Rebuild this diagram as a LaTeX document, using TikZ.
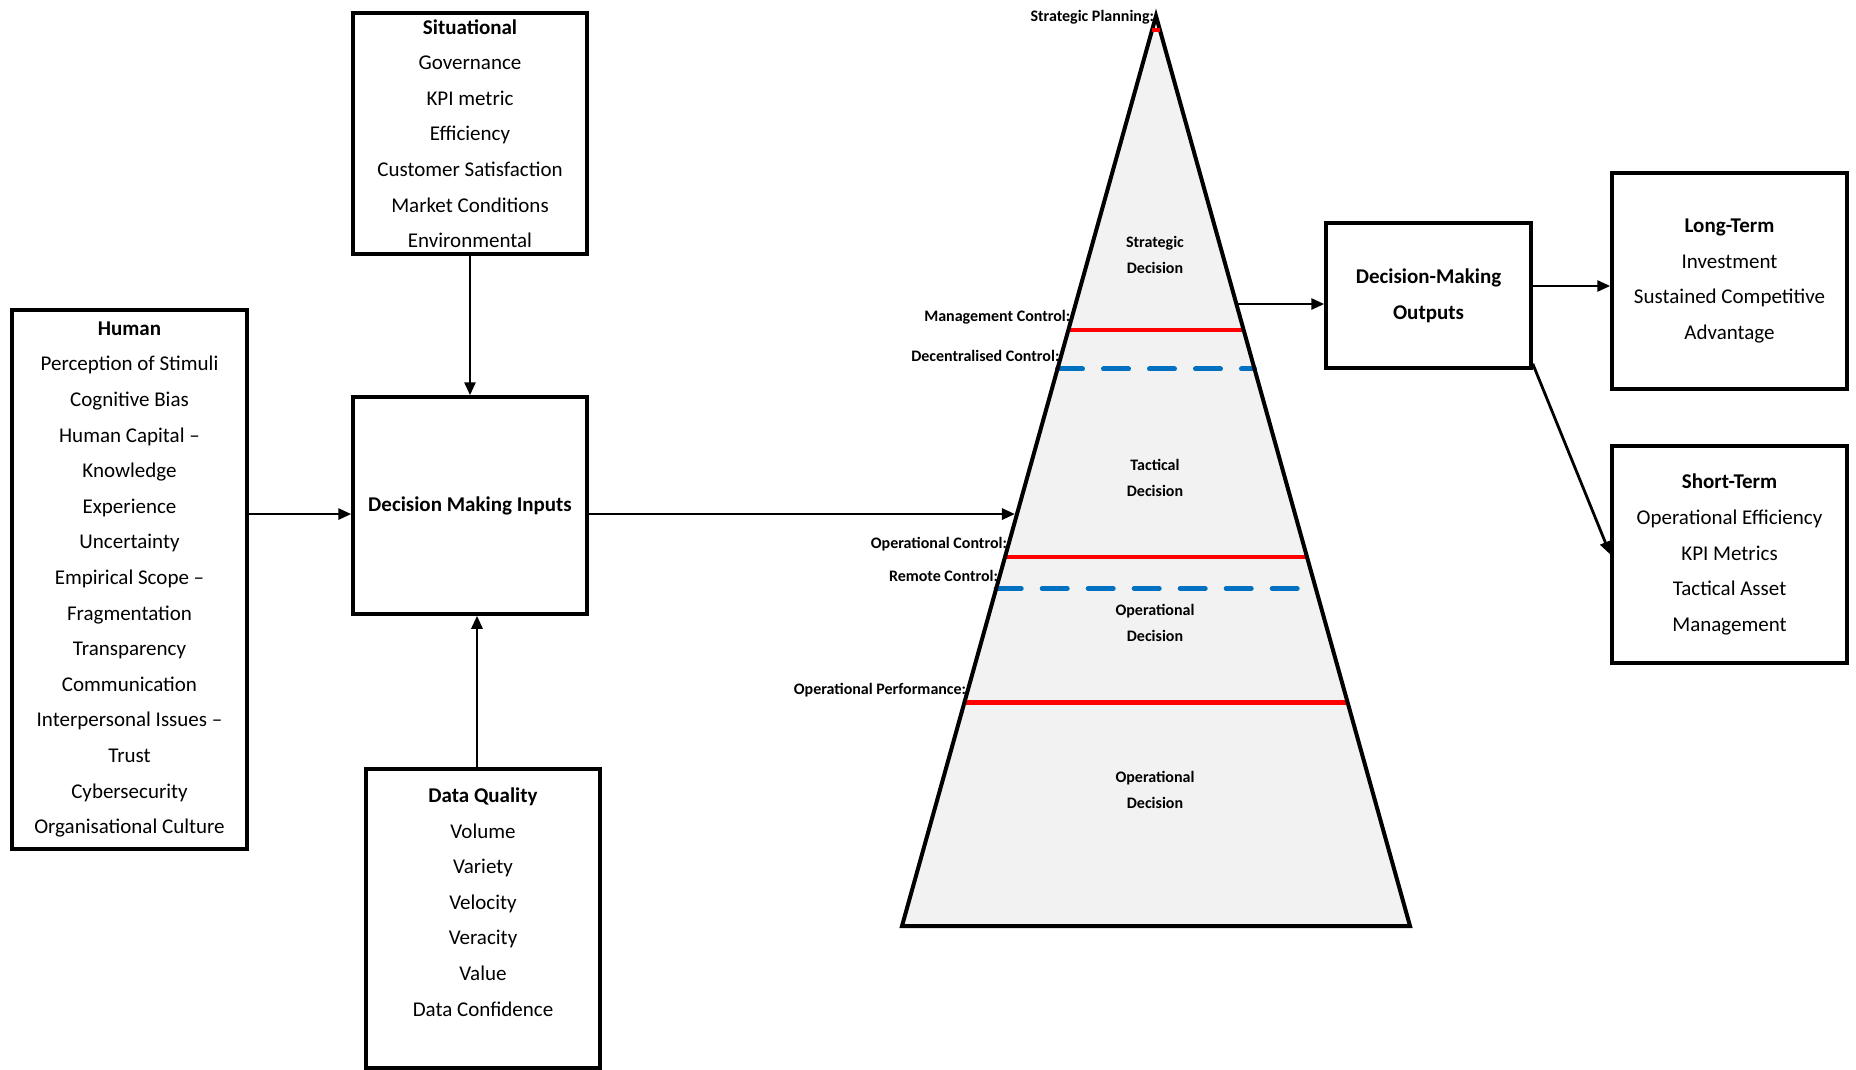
\documentclass[tikz,border=0pt]{standalone}
\usepackage{fontspec}
\setmainfont{Carlito}
\usetikzlibrary{arrows.meta,calc}
\definecolor{ctrlred}{RGB}{255,0,0}
\definecolor{ctrlblue}{RGB}{0,112,192}
\definecolor{pyrfill}{RGB}{242,242,242}

\begin{document}
\begin{tikzpicture}[x=1pt,y=-1pt,
  box/.style={draw=black, line width=3.5pt, rectangle, inner sep=0pt, align=center,
              font=\fontsize{21}{35.6}\selectfont},
  txt/.style={inner sep=0pt, align=center, font=\fontsize{21}{35.6}\selectfont},
  arr/.style={line width=2.8pt, -{Triangle[length=13pt,width=11pt]}},
  lvl/.style={font=\fontsize{16}{26}\selectfont\bfseries, align=center, inner sep=0pt},
  ctrl/.style={font=\fontsize{16}{19}\selectfont\bfseries, anchor=east, inner sep=0pt, xshift=-1.5pt},
  hardline/.style={draw=ctrlred, line width=4.5pt},
  softline/.style={draw=ctrlblue, line width=5pt, line cap=round, dash pattern=on 25pt off 21pt},
]
\useasboundingbox (0,0) rectangle (1856,1070);
\clip (0,0) rectangle (1856,1070);

% ---------- input boxes ----------
\node[box, minimum width=235pt, minimum height=539pt] (human) at (129.5,579.5)
  {\textbf{Human}\\ Perception of Stimuli\\ Cognitive Bias\\ Human Capital –\\ Knowledge\\
   Experience\\ Uncertainty\\ Empirical Scope –\\ Fragmentation\\ Transparency\\ Communication\\
   Interpersonal Issues –\\ Trust\\ Cybersecurity\\ Organisational Culture};

\node[box, minimum width=234pt, minimum height=241pt] (sit) at (470,133.5)
  {\textbf{Situational}\\ Governance\\ KPI metric\\ Efficiency\\ Customer Satisfaction\\
   Market Conditions\\ Environmental};

\node[box, minimum width=234pt, minimum height=217pt] (dmi) at (470,505.5)
  {\textbf{Decision Making Inputs}};

\node[box, minimum width=234pt, minimum height=299pt] (dq) at (483,918.5) {};
\node[txt] (dqtext) at (483,902)
  {\textbf{Data Quality}\\ Volume\\ Variety\\ Velocity\\ Veracity\\ Value\\ Data Confidence};

% ---------- output boxes ----------
\node[box, minimum width=205pt, minimum height=145pt] (dmo) at (1428.5,295.5)
  {\textbf{Decision-Making}\\ \textbf{Outputs}};

\node[box, minimum width=235pt, minimum height=216pt] (lt) at (1729.5,281)
  {\textbf{Long-Term}\\ Investment\\ Sustained Competitive\\ Advantage};

\node[box, minimum width=235pt, minimum height=217pt] (st) at (1729.5,554.5)
  {\textbf{Short-Term}\\ Operational Efficiency\\ KPI Metrics\\ Tactical Asset\\ Management};

% ---------- decision pyramid ----------
\coordinate (apex) at (1156,16);
\coordinate (bl) at (902,926);
\coordinate (br) at (1410,926);
\fill[pyrfill] (apex) -- (bl) -- (br) -- cycle;

\draw[hardline] ($(apex)!0.3451!(bl)$) -- ($(apex)!0.3451!(br)$);
\draw[softline] ($(apex)!0.3879!(bl)$) -- ($(apex)!0.3879!(br)$);
\draw[hardline] ($(apex)!0.5945!(bl)$) -- ($(apex)!0.5945!(br)$);
\draw[softline] ($(apex)!0.6291!(bl)$) -- ($(apex)!0.6291!(br)$);
\draw[hardline] ($(apex)!0.7544!(bl)$) -- ($(apex)!0.7544!(br)$);

\draw[line width=4pt, line join=miter] (apex) -- (bl) -- (br) -- cycle;

% short planning mark just under the tip
\draw[draw=ctrlred, line width=4pt] ($(apex)!0.0154!(bl)$) -- ($(apex)!0.0154!(br)$);

\node[lvl] (lvlstrat) at (1155,254.5) {Strategic\\ Decision};
\node[lvl] (lvltact)  at (1155,477.5) {Tactical\\ Decision};
\node[lvl] (lvlop)    at (1155,623)   {Operational\\ Decision};
\node[lvl] (lvlbase)  at (1155,789.5) {Operational\\ Decision};

\node[ctrl] (cplan) at ($(apex)!0.0011!(bl)$) {Strategic Planning:};
\node[ctrl] (cmgmt) at ($(apex)!0.3308!(bl)$) {Management Control:};
\node[ctrl] (cdec)  at ($(apex)!0.3736!(bl)$) {Decentralised Control:};
\node[ctrl] (coper) at ($(apex)!0.5802!(bl)$) {Operational Control:};
\node[ctrl] (crem)  at ($(apex)!0.6154!(bl)$) {Remote Control:};
\node[ctrl] (cperf) at ($(apex)!0.7407!(bl)$) {Operational Performance:};

% ---------- connectors ----------
\coordinate (pl) at ($(apex)!0.5473!(bl)$);
\coordinate (pr) at ($(apex)!0.3165!(br)$);

\draw[arr] (human.east |- pl) -- (dmi.west |- pl);
\draw[arr] (sit.south) -- (dmi.north);
\draw[arr] ([xshift=-6pt]dq.north) -- ([xshift=-6pt]dq.north |- dmi.south);
\draw[arr, shorten >=2pt] (dmi.east |- pl) -- (pl);
\draw[arr] (pr) -- (pr -| dmo.west);
\draw[arr] ([yshift=-5pt]lt.west -| dmo.east) -- ([yshift=-5pt]lt.west);
\draw[arr] ([yshift=6pt]dmo.south east) -- (st.west);
\end{tikzpicture}
\end{document}
